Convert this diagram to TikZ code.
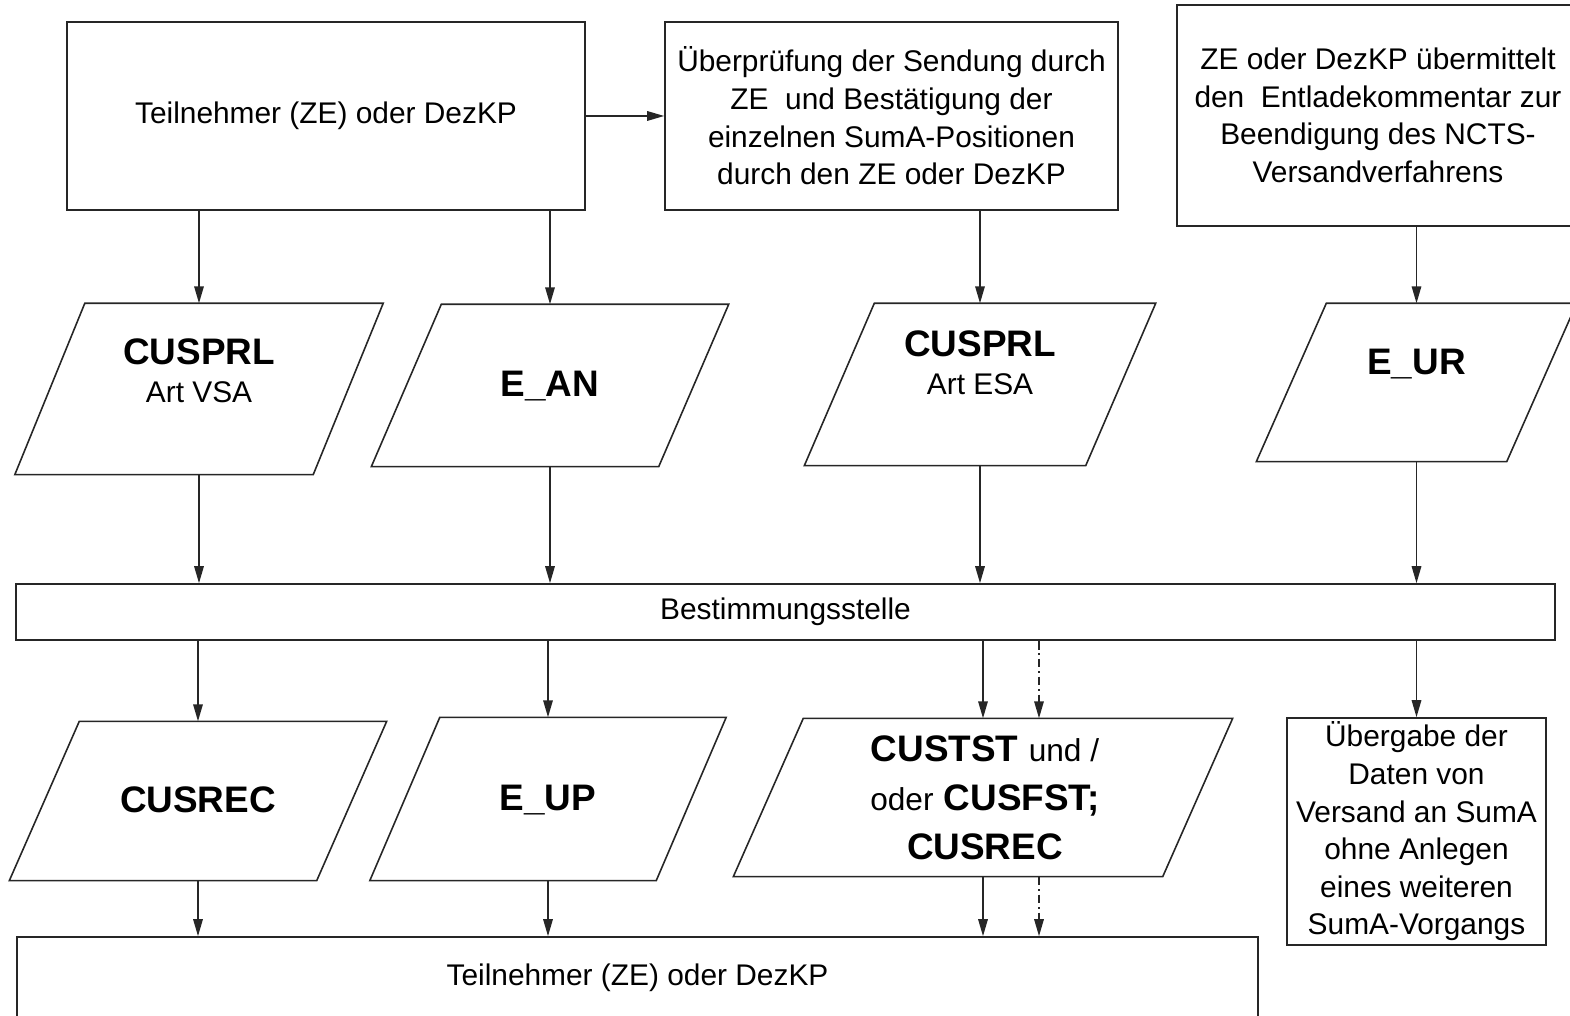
\documentclass[tikz,border=0pt]{standalone}
\usepackage{fontspec}
\setmainfont{Liberation Sans}
\usetikzlibrary{arrows.meta}

\newcommand{\bigtxt}{\fontsize{10.5}{13.9}\selectfont\bfseries}

\begin{document}
\begin{tikzpicture}[
        font=\fontsize{8.5}{10.7}\selectfont,
        box/.style={draw=black!85, line width=0.45pt, align=center, inner sep=0pt},
        para/.style={inner sep=0pt},
        edge/.style={draw=black!85, line width=0.45pt},
        arr/.style={-{Triangle[length=1.7mm,width=0.95mm]}, line width=0.45pt, black!85},
        darr/.style={arr, dash pattern=on 2.5pt off 1pt on 0.6pt off 1pt}
    ]
        \useasboundingbox (0,0) rectangle (15.70,10.16);

        % Pieces
        \node[box, minimum width=5.18cm, minimum height=1.88cm] (TN) at (3.26, 9.00) {Teilnehmer (ZE) oder DezKP};
        \node[box, minimum width=4.53cm, minimum height=1.88cm] (PR) at (8.915, 9.00) {Überprüfung der Sendung durch\\ZE\ \ und Bestätigung der\\einzelnen SumA-Positionen\\durch den ZE oder DezKP};
        \node[box, minimum width=4.02cm, minimum height=2.21cm] (EK) at (13.78, 9.005) {ZE oder DezKP übermittelt\\den\ \ Entladekommentar zur\\Beendigung des NCTS-\\Versandverfahrens};

        \node[para, minimum width=3.67cm, minimum height=1.70cm] (VSA) at (1.99, 6.27) {};
        \node[para, minimum width=3.56cm, minimum height=1.61cm] (AN) at (5.50, 6.305) {};
        \node[para, minimum width=3.50cm, minimum height=1.61cm] (ESA) at (9.80, 6.315) {};
        \node[para, minimum width=3.19cm, minimum height=1.57cm] (EUR) at (14.165, 6.335) {};
        \node[align=center] (VSAt) at (1.99, 6.45) {{\bigtxt CUSPRL}\\Art VSA};
        \node[font=\bigtxt] (ANt) at (5.50, 6.30) {E\_AN};
        \node[align=center] (ESAt) at (9.80, 6.53) {{\bigtxt CUSPRL}\\Art ESA};
        \node[font=\bigtxt] (EURt) at (14.165, 6.52) {E\_UR};

        \node[box, minimum width=15.39cm, minimum height=0.56cm] (BS) at (7.855, 4.04) {Bestimmungsstelle};

        \node[para, minimum width=3.76cm, minimum height=1.58cm] (REC) at (1.98, 2.15) {};
        \node[para, minimum width=3.55cm, minimum height=1.62cm] (UP) at (5.48, 2.17) {};
        \node[para, minimum width=4.98cm, minimum height=1.57cm] (TST) at (9.83, 2.185) {};
        \node[font=\bigtxt] (RECt) at (1.98, 2.16) {CUSREC};
        \node[font=\bigtxt] (UPt) at (5.48, 2.16) {E\_UP};
        \node[font=\bigtxt, align=center] (TSTt) at (9.85, 2.18) {CUSTST {\mdseries\fontsize{9}{13.9}\selectfont und /}\\{\mdseries\fontsize{9}{13.9}\selectfont oder} CUSFST;\\CUSREC};
        \node[box, minimum width=2.59cm, minimum height=2.27cm] (UEB) at (14.165, 1.845) {Übergabe der\\Daten von\\Versand an SumA\\ohne Anlegen\\eines weiteren\\SumA-Vorgangs};

        \node[box, minimum width=12.41cm, minimum height=0.82cm] (TNB) at (6.375, 0.38) {Teilnehmer (ZE) oder DezKP};

        % Parallelogram outlines
        \foreach \p in {VSA, AN, ESA, EUR, REC, UP, TST}
            \draw[edge] ([xshift=0.70cm]\p.north west) -- (\p.north east)
                -- ([xshift=-0.70cm]\p.south east) -- (\p.south west) -- cycle;

        % Arrows
        \draw[arr] (TN.east) -- (PR.west);
        \draw[arr] (TN.south -| VSA.north) -- (VSA.north);
        \draw[arr] (TN.south -| AN.north) -- (AN.north);
        \draw[arr] (PR.south -| ESA.north) -- (ESA.north);
        \draw[arr] (EK.south -| EUR.north) -- (EUR.north);

        \draw[arr] (VSA.south) -- (VSA.south |- BS.north);
        \draw[arr] (AN.south) -- (AN.south |- BS.north);
        \draw[arr] (ESA.south) -- (ESA.south |- BS.north);
        \draw[arr] (EUR.south) -- (EUR.south |- BS.north);

        \draw[arr] (BS.south -| REC.north) -- (REC.north);
        \draw[arr] (BS.south -| UP.north) -- (UP.north);
        \draw[arr] (BS.south -| TST.north) -- (TST.north);
        \draw[darr] ([xshift=5.6mm]TST.north |- BS.south) -- ([xshift=5.6mm]TST.north);
        \draw[arr] (BS.south -| UEB.north) -- (UEB.north);

        \draw[arr] (REC.south) -- (REC.south |- TNB.north);
        \draw[arr] (UP.south) -- (UP.south |- TNB.north);
        \draw[arr] (TST.south) -- (TST.south |- TNB.north);
        \draw[darr] ([xshift=5.6mm]TST.south) -- ([xshift=5.6mm]TST.south |- TNB.north);
    \end{tikzpicture}
\end{document}
